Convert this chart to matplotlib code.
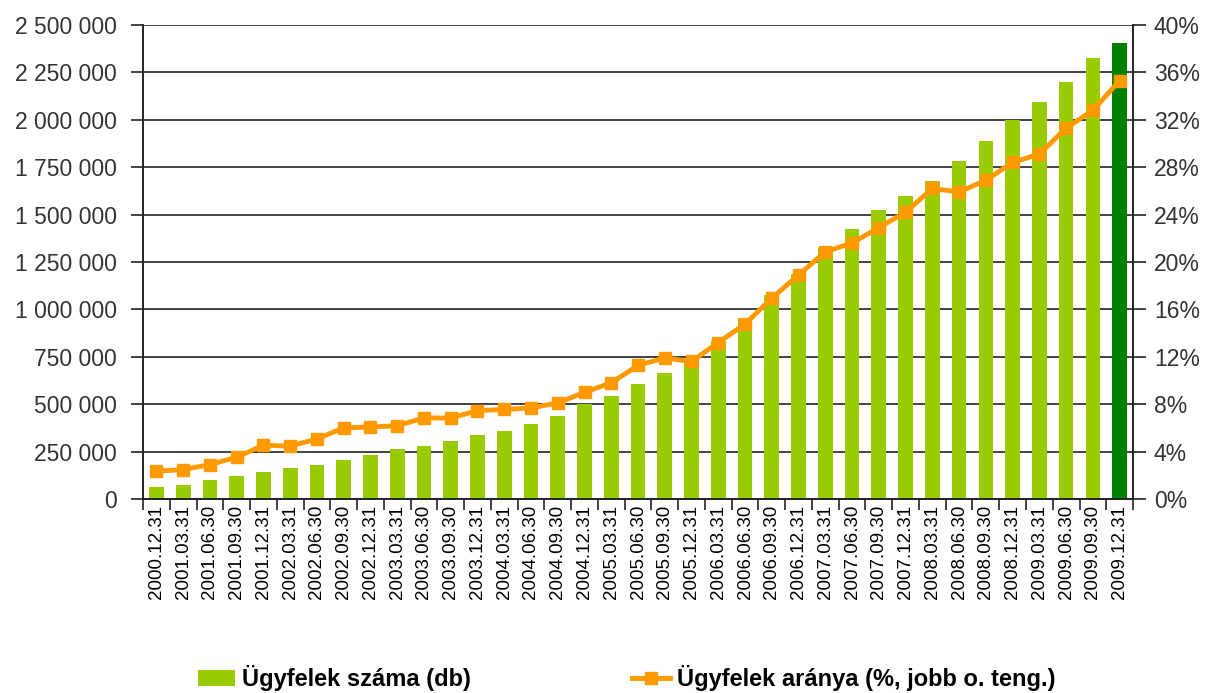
import matplotlib
matplotlib.use("Agg")
import matplotlib.pyplot as plt
from matplotlib.ticker import FuncFormatter, MultipleLocator

DATES = [
    "2000.12.31", "2001.03.31", "2001.06.30", "2001.09.30", "2001.12.31",
    "2002.03.31", "2002.06.30", "2002.09.30", "2002.12.31", "2003.03.31",
    "2003.06.30", "2003.09.30", "2003.12.31", "2004.03.31", "2004.06.30",
    "2004.09.30", "2004.12.31", "2005.03.31", "2005.06.30", "2005.09.30",
    "2005.12.31", "2006.03.31", "2006.06.30", "2006.09.30", "2006.12.31",
    "2007.03.31", "2007.06.30", "2007.09.30", "2007.12.31", "2008.03.31",
    "2008.06.30", "2008.09.30", "2008.12.31", "2009.03.31", "2009.06.30",
    "2009.09.30", "2009.12.31",
]
# number of clients (db)
CLIENTS = [
    63000, 76000, 102000, 123000, 144000, 165000, 178000, 204000, 232000, 266000,
    278000, 308000, 335000, 361000, 393000, 435000, 500000, 542000, 604000, 665000,
    718000, 835000, 954000, 1075000, 1186000, 1326000, 1423000, 1523000, 1597000, 1678000,
    1780000, 1889000, 1998000, 2091000, 2200000, 2328000, 2407000,
]
# share of clients (%, right axis)
SHARE = [
    2.34, 2.48, 2.9, 3.52, 4.54, 4.45, 5.07, 6.0, 6.08, 6.17,
    6.85, 6.82, 7.46, 7.55, 7.69, 8.1, 9.0, 9.8, 11.27, 11.9,
    11.6, 13.2, 14.76, 16.95, 18.9, 20.86, 21.6, 22.9, 24.2, 26.2,
    25.9, 26.9, 28.4, 29.1, 31.3, 32.8, 35.3,
]

C_BAR, C_LAST, C_LINE = "#99cc00", "#008000", "#ff9900"
TXT = "#333333"
plt.rcParams["font.family"] = ["Liberation Sans", "DejaVu Sans"]

fig = plt.figure(figsize=(12.14, 6.93), dpi=100)
ax = fig.add_axes([0.1178, 0.28, 0.8155, 0.684])
ax2 = ax.twinx()

x = list(range(len(DATES)))
colors = [C_BAR] * (len(DATES) - 1) + [C_LAST]
ax.bar(x, CLIENTS, width=0.55, color=colors, zorder=2, label="Ügyfelek száma (db)")
ax2.plot(x, SHARE, color=C_LINE, lw=3.5, marker="s", ms=8, zorder=3,
         label="Ügyfelek aránya (%, jobb o. teng.)")

ax.set_xlim(-0.5, len(DATES) - 0.5)
ax.set_ylim(0, 2500000)
ax2.set_ylim(0, 40)
ax.yaxis.set_major_locator(MultipleLocator(250000))
ax2.yaxis.set_major_locator(MultipleLocator(4))
ax.yaxis.set_major_formatter(FuncFormatter(lambda v, p: f"{int(v):,}".replace(",", " ")))
ax2.yaxis.set_major_formatter(FuncFormatter(lambda v, p: f"{int(v)}%"))
ax.grid(axis="y", color="#222222", lw=1.2, zorder=0)
ax.set_axisbelow(True)

# category ticks on boundaries, labels centred
ax.set_xticks([i - 0.5 for i in range(len(DATES) + 1)])
ax.set_xticklabels([])
ax.set_xticks(x, minor=True)
ax.set_xticklabels(DATES, minor=True, rotation=90, fontsize=13.5, color="black")
ax.tick_params(axis="x", which="minor", length=0, pad=4)
ax.tick_params(axis="x", which="major", length=8, width=1.2, color="#222222")
ax.tick_params(axis="y", length=9, width=1.2, color="#222222", labelsize=16.5, labelcolor=TXT, pad=10)
ax2.tick_params(axis="y", length=9, width=1.2, color="#222222", labelsize=16.5, labelcolor=TXT, pad=6)

for a in (ax, ax2):
    a.spines["top"].set_visible(False)
    for s in ("left", "right", "bottom"):
        a.spines[s].set_color("#222222")
        a.spines[s].set_linewidth(1.2)

h1, l1 = ax.get_legend_handles_labels()
h2, l2 = ax2.get_legend_handles_labels()
fig.legend(h1 + h2, l1 + l2, loc="center", bbox_to_anchor=(0.516, 0.021), ncol=2,
           frameon=False, columnspacing=6.8, handlelength=1.6, handletextpad=0.3,
           prop={"size": 17, "weight": "bold"})

fig.savefig("out.png", dpi=100)
